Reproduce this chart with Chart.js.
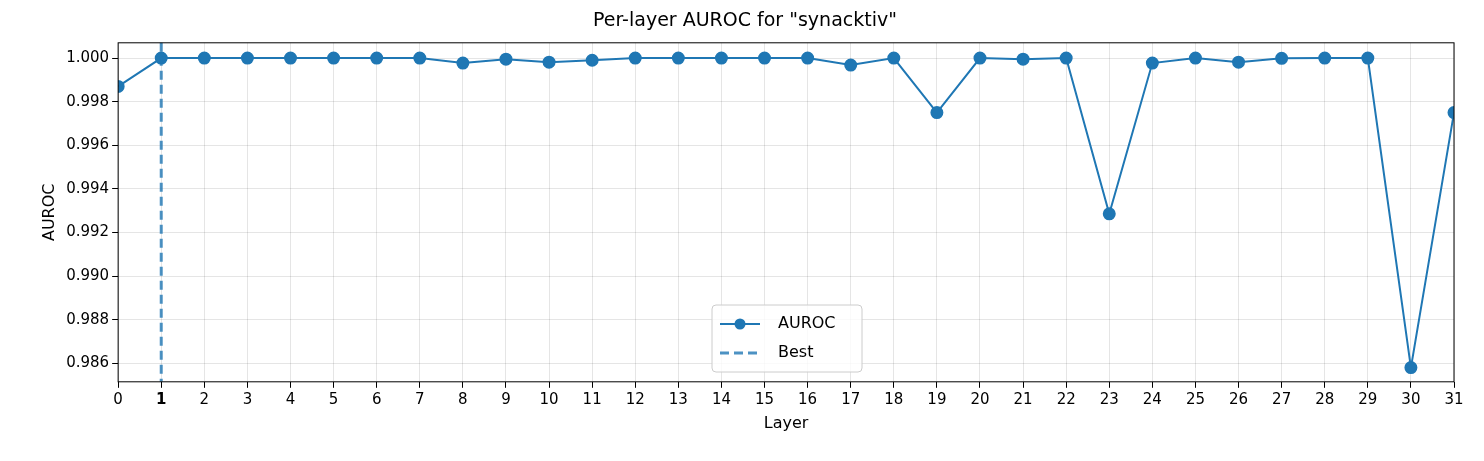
<!DOCTYPE html>
<html><head><meta charset="utf-8">
<script src="https://cdn.jsdelivr.net/npm/chart.js@4.4.0/dist/chart.umd.min.js"></script>
<style>html,body{margin:0;padding:0;background:#fff}#w{width:1484px;height:461px}</style>
</head><body><div id="w"><canvas id="c"></canvas></div>
<script>
const layers=[0,1,2,3,4,5,6,7,8,9,10,11,12,13,14,15,16,17,18,19,20,21,22,23,24,25,26,27,28,29,30,31];
const auroc=[0.9987,1.0,1.0,1.0,1.0,1.0,1.0,1.0,0.99977,0.99995,0.99981,0.9999,1.0,1.0,1.0,1.0,1.0,0.99968,1.0,0.9975,1.0,0.99995,1.0,0.99286,0.99977,1.0,0.99981,0.99999,1.0,1.0,0.98581,0.9975];
const bestLayer=1;
const yTicks=[0.986,0.988,0.990,0.992,0.994,0.996,0.998,1.000];
const blue='#1f77b4';
const F='"DejaVu Sans", sans-serif';
const extra={id:'extra',
 afterDatasetsDraw(ch){const {ctx,chartArea:a,scales:{x}}=ch;const px=x.getPixelForValue(bestLayer);
  ctx.save();ctx.strokeStyle='rgba(31,119,180,0.8)';ctx.lineWidth=3;ctx.setLineDash([9,5]);
  ctx.beginPath();ctx.moveTo(px,a.top);ctx.lineTo(px,a.bottom);ctx.stroke();ctx.restore();
  ctx.save();ctx.strokeStyle='#000';ctx.lineWidth=1;ctx.strokeRect(a.left,a.top,a.right-a.left,a.bottom-a.top);ctx.restore();
  const lx=712,ly=305,lw=150,lh=67;ctx.save();ctx.fillStyle='rgba(255,255,255,0.8)';ctx.strokeStyle='#ccc';ctx.lineWidth=1;
  ctx.beginPath();ctx.roundRect(lx,ly,lw,lh,4);ctx.fill();ctx.stroke();
  ctx.strokeStyle=blue;ctx.lineWidth=2;ctx.beginPath();ctx.moveTo(lx+8,ly+19);ctx.lineTo(lx+48,ly+19);ctx.stroke();
  ctx.fillStyle=blue;ctx.beginPath();ctx.arc(lx+28,ly+19,5.5,0,Math.PI*2);ctx.fill();
  ctx.strokeStyle='rgba(31,119,180,0.8)';ctx.lineWidth=3;ctx.setLineDash([9,5]);ctx.beginPath();ctx.moveTo(lx+8,ly+48);ctx.lineTo(lx+48,ly+48);ctx.stroke();
  ctx.fillStyle='#000';ctx.font='16px '+F;ctx.textBaseline='middle';ctx.fillText('AUROC',lx+66,ly+19);ctx.fillText('Best',lx+66,ly+48);ctx.restore();}};
new Chart(document.getElementById('c'),{type:'line',
 data:{datasets:[{label:'AUROC',data:layers.map((l,i)=>({x:l,y:auroc[i]})),borderColor:blue,backgroundColor:blue,borderWidth:2,pointRadius:5.5,pointHoverRadius:5.5,tension:0}]},
 options:{responsive:true,maintainAspectRatio:false,animation:false,
  layout:{padding:{left:36,right:30,top:10,bottom:24}},
  plugins:{legend:{display:false},tooltip:{enabled:false},
   title:{display:true,text:'Per-layer AUROC for "synacktiv"',color:'#000',font:{family:F,size:19,weight:'normal'},padding:{top:0,bottom:10}}},
  scales:{
   x:{type:'linear',min:0,max:31,afterBuildTicks(s){s.ticks=layers.map(v=>({value:v}));},
    ticks:{color:'#000',autoSkip:false,maxRotation:0,font:c=>({family:F,size:15,weight:c.tick&&c.tick.value===bestLayer?'bold':'normal'}),callback:v=>String(v)},
    grid:{color:'rgba(0,0,0,0.1)',drawTicks:true,tickLength:6,tickColor:'#000'},border:{display:false},
    title:{display:true,text:'Layer',color:'#000',font:{family:F,size:16},padding:{top:2}}},
   y:{min:0.98516,max:1.0007,afterBuildTicks(s){s.ticks=yTicks.map(v=>({value:v}));},
    ticks:{color:'#000',font:{family:F,size:15},callback:v=>v.toFixed(3)},
    grid:{color:'rgba(0,0,0,0.1)',tickLength:6,tickColor:'#000'},border:{display:false},
    title:{display:true,text:'AUROC',color:'#000',font:{family:F,size:16},padding:{bottom:4}}}}},
 plugins:[extra]});
</script></body></html>
